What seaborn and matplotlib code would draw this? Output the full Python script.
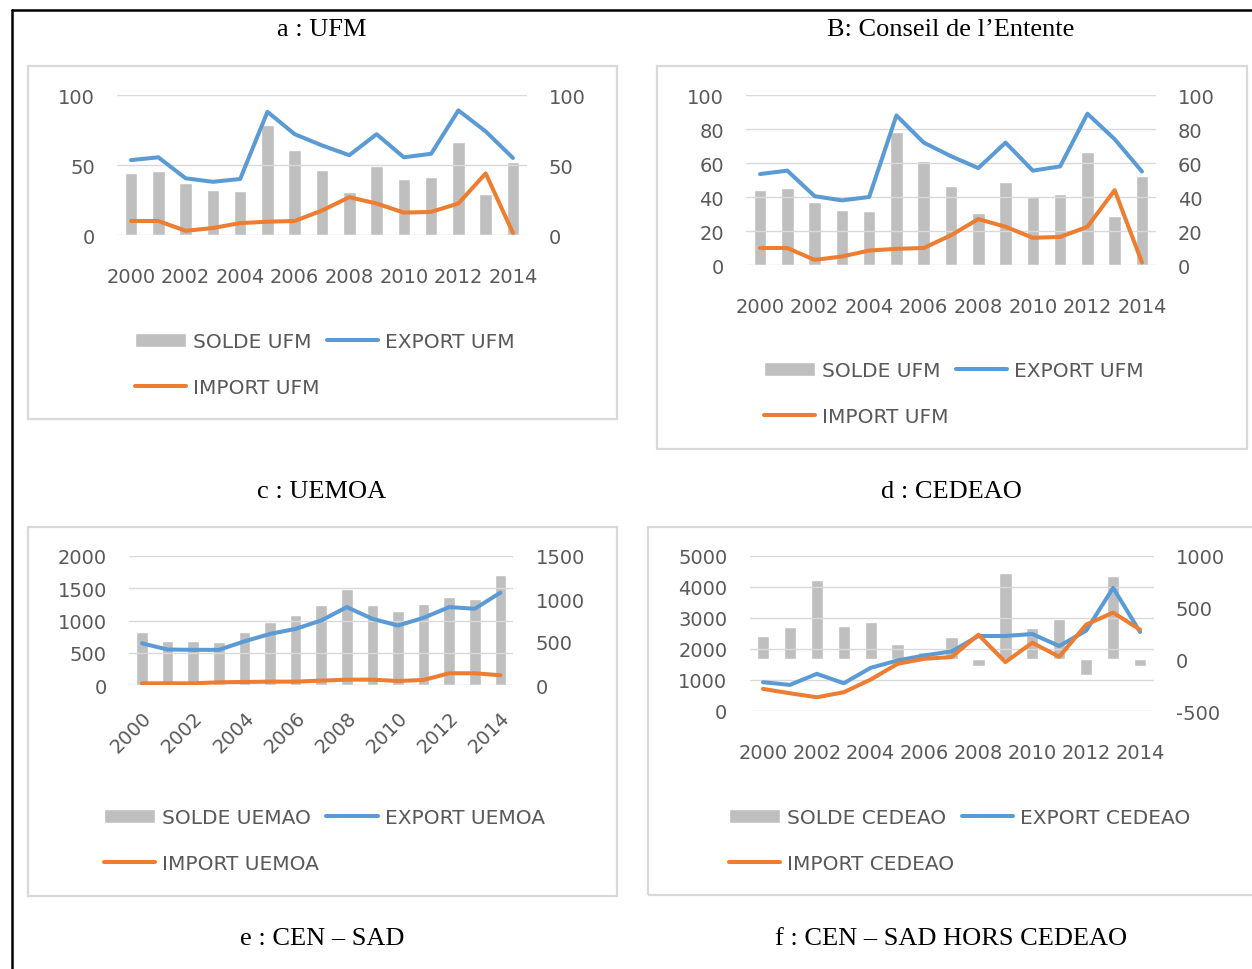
import matplotlib.pyplot as plt
import seaborn as sns
from matplotlib.lines import Line2D
from matplotlib.patches import Rectangle

# ---- data ----
YEARS = list(range(2000, 2015))

SOLDE_UFM = [44, 45.5, 37, 32.5, 31.5, 78.5, 61, 46.5, 30.5, 49, 40, 41.5, 66.5, 29, 52.5]
EXPORT_UFM = [53.5, 55.5, 40.5, 38, 40, 88, 72, 64, 57, 72, 55.5, 58, 89, 74, 55]
IMPORT_UFM = [10, 10, 3, 5, 8.5, 9.5, 10, 17.5, 27, 22.5, 16, 16.5, 22.5, 44, 1.5]

SOLDE_UEMOA = [613, 508, 508, 496, 613, 738, 809, 930, 1113, 930, 855, 945, 1020, 1004, 1277]
EXPORT_UEMOA = [646, 550, 545, 545, 677, 792, 870, 1000, 1208, 1026, 922, 1042, 1208, 1182, 1432]
IMPORT_UEMOA = [26, 26, 26, 42, 47, 52, 52, 68, 83, 83, 62, 78, 182, 182, 151]

SOLDE_CEDEAO = [226, 313, 763, 325, 362, 151, 70, 213, -69, 837, 303, 394, -156, 809, -69]
EXPORT_CEDEAO = [929, 842, 1199, 896, 1393, 1631, 1793, 1922, 2419, 2419, 2484, 2095, 2592, 3974, 2549]
IMPORT_CEDEAO = [713, 572, 443, 605, 1015, 1523, 1685, 1739, 2462, 1577, 2203, 1749, 2786, 3175, 2624]

TITLES = ["a : UFM", "B: Conseil de l\u2019Entente", "c : UEMOA", "d : CEDEAO",
          "e : CEN \u2013 SAD", "f : CEN \u2013 SAD HORS CEDEAO"]

GREY = "#BFBFBF"
BLUE = "#5B9BD5"
ORANGE = "#ED7D31"
TXT = "#595959"
GRID = "#D9D9D9"

W, H = 1252, 970

sns.set_style("white")
plt.rcParams["font.family"] = ["DejaVu Sans"]
plt.rcParams["axes.unicode_minus"] = False

fig = plt.figure(figsize=(W / 100, H / 100), dpi=100)


def px_rect(x0, y0, x1, y1):
    return [x0 / W, 1 - y1 / H, (x1 - x0) / W, (y1 - y0) / H]


def draw_panel(area, box, legend_xy, solde, export, imp, names,
               left_ticks, right_ticks, rotate=False):
    ax = fig.add_axes(px_rect(*area))      # lines, left scale, grid
    ax2 = ax.twinx()                        # bars, right scale
    ax.set_zorder(2)
    ax2.set_zorder(1)
    ax.patch.set_visible(False)

    sns.barplot(x=YEARS, y=solde, native_scale=True, width=0.46, color=GREY,
                saturation=1, errorbar=None, ax=ax2, label=names[0])
    sns.lineplot(x=YEARS, y=export, color=BLUE, linewidth=2.9, ax=ax,
                 label=names[1], solid_capstyle="round", solid_joinstyle="round")
    sns.lineplot(x=YEARS, y=imp, color=ORANGE, linewidth=2.9, ax=ax,
                 label=names[2], solid_capstyle="round", solid_joinstyle="round")

    ax.set_xlim(YEARS[0] - 0.5, YEARS[-1] + 0.5)
    ax.set_ylim(left_ticks[0], left_ticks[-1])
    ax.set_yticks(left_ticks)
    ax2.set_ylim(right_ticks[0], right_ticks[-1])
    ax2.set_yticks(right_ticks)
    ax.set_xticks(YEARS[::2])
    ax.set_xticklabels([str(y) for y in YEARS[::2]])

    for a in (ax, ax2):
        a.set_xlabel("")
        a.set_ylabel("")
        for s in a.spines.values():
            s.set_visible(False)
        a.tick_params(length=0, labelsize=14, labelcolor=TXT, axis="y", pad=16)
        a.grid(False)
    ax.yaxis.grid(True, color=GRID, linewidth=1)
    if rotate:
        ax.tick_params(axis="x", length=0, labelsize=14, labelcolor=TXT, pad=16)
        for lab in ax.get_xticklabels():
            lab.set_rotation(45)
            lab.set_ha("right")
            lab.set_rotation_mode("anchor")
    else:
        ax.tick_params(axis="x", length=0, labelsize=14, labelcolor=TXT, pad=23)

    bar_handle = ax2.containers[0].patches[0]
    leg_handles = [bar_handle, ax.lines[1], ax.lines[0]]
    leg_labels = [names[0], names[2], names[1]]
    if ax2.get_legend():
        ax2.get_legend().remove()
    ax.legend(leg_handles, leg_labels, ncol=2, loc="upper left",
              bbox_to_anchor=(legend_xy[0] / W, 1 - legend_xy[1] / H),
              bbox_transform=fig.transFigure, frameon=False, borderpad=0,
              borderaxespad=0, handlelength=2.55, handletextpad=0.35,
              columnspacing=0.35, labelspacing=1.32, fontsize=14.5,
              labelcolor=TXT)

    x0, y0, x1, y1 = box
    fig.add_artist(Rectangle((x0 / W, 1 - y1 / H), (x1 - x0) / W, (y1 - y0) / H,
                             transform=fig.transFigure, fill=False,
                             edgecolor=GRID, linewidth=1.6))


UFM_NAMES = ["SOLDE UFM", "EXPORT UFM", "IMPORT UFM"]

draw_panel((117.4, 96, 526.6, 236), (28, 67, 617, 420), (135, 333),
           SOLDE_UFM, EXPORT_UFM, IMPORT_UFM, UFM_NAMES,
           [0, 50, 100], [0, 50, 100])
draw_panel((746.4, 96, 1155.6, 266), (657, 67, 1247, 450), (764, 362),
           SOLDE_UFM, EXPORT_UFM, IMPORT_UFM, UFM_NAMES,
           [0, 20, 40, 60, 80, 100], [0, 20, 40, 60, 80, 100])
draw_panel((129.2, 557, 513.2, 686), (28, 528, 617, 897), (104, 809),
           SOLDE_UEMOA, EXPORT_UEMOA, IMPORT_UEMOA,
           ["SOLDE UEMAO", "EXPORT UEMOA", "IMPORT UEMOA"],
           [0, 500, 1000, 1500, 2000], [0, 500, 1000, 1500], rotate=True)
draw_panel((749.5, 557, 1153.5, 712), (648, 528, 1262, 896), (729, 809),
           SOLDE_CEDEAO, EXPORT_CEDEAO, IMPORT_CEDEAO,
           ["SOLDE CEDEAO", "EXPORT CEDEAO", "IMPORT CEDEAO"],
           [0, 1000, 2000, 3000, 4000, 5000], [-500, 0, 500, 1000])

# panel captions (table layout)
title_pos = [(322, 30), (951, 30), (322, 492), (951, 492), (322, 939), (951, 939)]
for (tx, ty), t in zip(title_pos, TITLES):
    fig.text(tx / W, 1 - ty / H, t, ha="center", va="center",
             fontsize=19, family="Liberation Serif", color="black")

# outer table border (top and left)
fig.add_artist(Line2D([12 / W, 1], [1 - 11 / H, 1 - 11 / H],
                      transform=fig.transFigure, color="black", linewidth=1.8))
fig.add_artist(Line2D([12 / W, 12 / W], [1 - 11 / H, 0],
                      transform=fig.transFigure, color="black", linewidth=1.8))

fig.savefig("out.png", dpi=100)
